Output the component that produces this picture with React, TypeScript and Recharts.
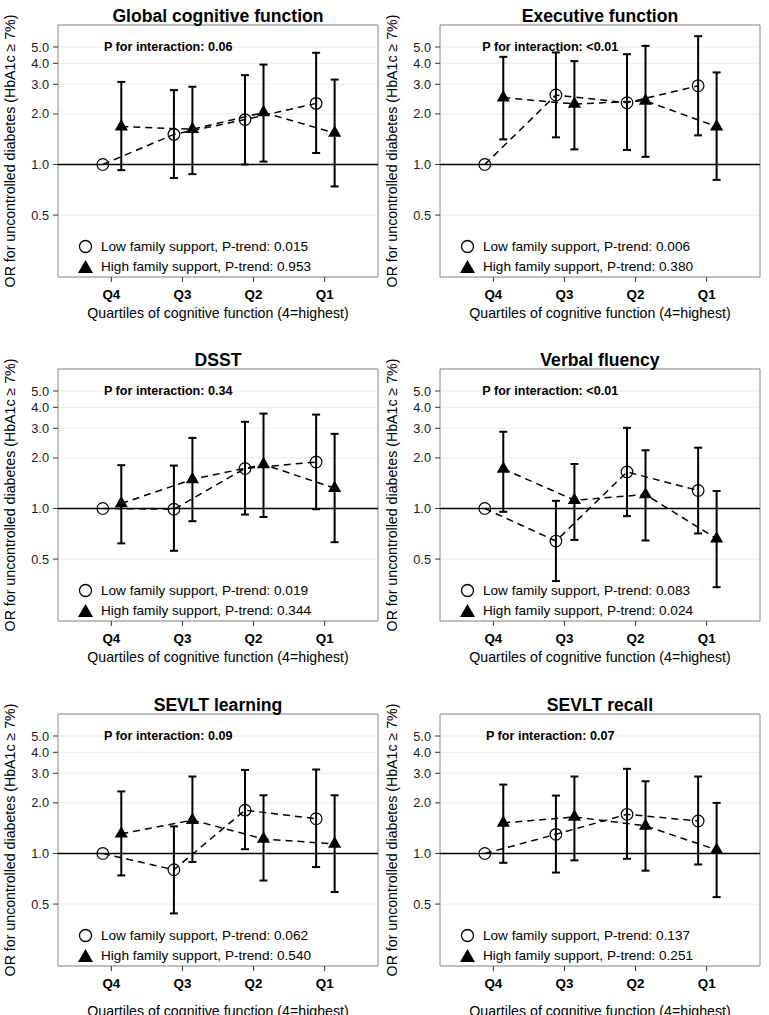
import React from "react";
import {
  ScatterChart,
  Scatter,
  XAxis,
  YAxis,
  CartesianGrid,
  ReferenceLine,
  ReferenceArea,
  ReferenceDot,
  ErrorBar,
  Legend,
} from "recharts";

const FONT = '"Liberation Sans", Arial, Helvetica, sans-serif';

// categories and axis ticks
const quartiles = ["Q4", "Q3", "Q2", "Q1"];
const yTicks = [0.5, 1, 2, 3, 4, 5];
const xTitle = "Quartiles of cognitive function (4=highest)";
const yTitle = "OR for uncontrolled diabetes (HbA1c \u2265 7%)";

const panelTitles = [
  "Global cognitive function",
  "Executive function",
  "DSST",
  "Verbal fluency",
  "SEVLT learning",
  "SEVLT recall",
];
const interactionP = ["0.06", "<0.01", "0.34", "<0.01", "0.09", "0.07"];
const lowTrendP = ["0.015", "0.006", "0.019", "0.083", "0.062", "0.137"];
const highTrendP = ["0.953", "0.380", "0.344", "0.024", "0.540", "0.251"];

// [OR, lower CI, upper CI] for Q4, Q3, Q2, Q1 (Q4 low support = reference)
const globalLow = [[1.0, null, null], [1.51, 0.83, 2.77], [1.85, 1.0, 3.4], [2.31, 1.17, 4.62]];
const globalHigh = [[1.68, 0.925, 3.1], [1.62, 0.876, 2.9], [2.04, 1.04, 3.93], [1.54, 0.74, 3.2]];
const execLow = [[1.0, null, null], [2.59, 1.45, 4.64], [2.33, 1.22, 4.53], [2.94, 1.49, 5.8]];
const execHigh = [[2.5, 1.41, 4.37], [2.29, 1.23, 4.12], [2.39, 1.11, 5.08], [1.68, 0.81, 3.53]];
const dsstLow = [[1.0, null, null], [0.99, 0.56, 1.8], [1.73, 0.92, 3.28], [1.89, 0.99, 3.62]];
const dsstHigh = [[1.07, 0.62, 1.81], [1.49, 0.84, 2.63], [1.83, 0.89, 3.67], [1.32, 0.63, 2.78]];
const verbalLow = [[1.0, null, null], [0.64, 0.37, 1.11], [1.65, 0.9, 3.02], [1.28, 0.71, 2.3]];
const verbalHigh = [[1.72, 0.955, 2.86], [1.12, 0.65, 1.84], [1.21, 0.645, 2.22], [0.66, 0.34, 1.27]];
const learnLow = [[1.0, null, null], [0.8, 0.44, 1.45], [1.81, 1.06, 3.14], [1.61, 0.83, 3.16]];
const learnHigh = [[1.31, 0.74, 2.34], [1.58, 0.89, 2.87], [1.22, 0.69, 2.22], [1.14, 0.59, 2.22]];
const recallLow = [[1.0, null, null], [1.3, 0.77, 2.21], [1.71, 0.93, 3.19], [1.56, 0.86, 2.87]];
const recallHigh = [[1.52, 0.88, 2.57], [1.65, 0.91, 2.87], [1.46, 0.79, 2.69], [1.05, 0.55, 2.0]];

const lowSets = [globalLow, execLow, dsstLow, verbalLow, learnLow, recallLow];
const highSets = [globalHigh, execHigh, dsstHigh, verbalHigh, learnHigh, recallHigh];

const Y_DOMAIN: [number, number] = [0.214, 6.76];
const X_DOMAIN: [number, number] = [0.25, 4.75];

// dodge the two groups a little around each quartile
function toPoints(rows: (number | null)[][], shift: number) {
  return rows.map(([or, lo, hi], i) => ({
    x: i + 1 + shift,
    y: or as number,
    err: lo == null || hi == null ? null : [(or as number) - lo, hi - (or as number)],
  }));
}

const OpenCircle = (props: any) => (
  <circle cx={props.cx} cy={props.cy} r={5.8} fill="none" stroke="#000" strokeWidth={1.2} />
);

const Triangle = (props: any) => {
  const { cx, cy } = props;
  const h = 7.6;
  return (
    <polygon
      points={`${cx},${cy - h} ${cx + h * 0.866},${cy + h / 2} ${cx - h * 0.866},${cy + h / 2}`}
      fill="#000"
    />
  );
};

const YTitle = (props: any) => {
  const vb = props.viewBox || { x: 0, y: 0, height: 0 };
  const cx = vb.x + 14;
  const cy = vb.y + vb.height / 2;
  return (
    <text x={cx} y={cy} transform={`rotate(-90 ${cx} ${cy})`} textAnchor="middle" fontSize={14.2} fill="#000">
      {yTitle}
    </text>
  );
};

const LegendBox = ({ payload }: any) => {
  const items = [...(payload || [])].sort(
    (a: any, b: any) => Number(String(b.value).startsWith("Low")) - Number(String(a.value).startsWith("Low"))
  );
  return (
    <div style={{ fontSize: 13.6, color: "#000", fontFamily: FONT }}>
      {items.map((entry: any, i: number) => (
        <div key={i} style={{ display: "flex", alignItems: "center", height: 20 }}>
          <svg width={15} height={15}>
            {String(entry.value).startsWith("Low") ? (
              <circle cx={7.5} cy={7.5} r={6} fill="none" stroke="#000" strokeWidth={1.3} />
            ) : (
              <polygon points="7.5,1 15,14 0,14" fill="#000" />
            )}
          </svg>
          <span style={{ marginLeft: 8.5, whiteSpace: "nowrap" }}>{entry.value}</span>
        </div>
      ))}
    </div>
  );
};

function Panel({ idx, left, top, titleOffset }: { idx: number; left: number; top: number; titleOffset: number }) {
  const lowPts = toPoints(lowSets[idx], -0.12);
  const highPts = toPoints(highSets[idx], 0.14);
  const dashed = { stroke: "#000", strokeWidth: 1.5, strokeDasharray: "7 5" };

  return (
    <div style={{ position: "absolute", left, top, width: 384, height: 345 }}>
      <ScatterChart width={384} height={345} margin={{ top: 25, right: 7, bottom: 0, left: 0 }}>
        <CartesianGrid vertical={false} stroke="#ececec" />
        <XAxis
          type="number"
          dataKey="x"
          domain={X_DOMAIN}
          allowDataOverflow
          ticks={[1, 2, 3, 4]}
          interval={0}
          tickFormatter={(v) => quartiles[v - 1]}
          height={68}
          axisLine={false}
          tickLine={{ stroke: "#333" }}
          tickSize={5}
          tickMargin={7}
          tick={{ fontSize: 13.4, fontWeight: "bold", fill: "#000" }}
          label={{ value: xTitle, position: "insideBottom", offset: titleOffset, fontSize: 14.2, fill: "#000" }}
        />
        <YAxis
          type="number"
          dataKey="y"
          scale="log"
          domain={Y_DOMAIN}
          allowDataOverflow
          ticks={yTicks}
          interval={0}
          tickFormatter={(v) => Number(v).toFixed(1)}
          width={57}
          axisLine={false}
          tickLine={{ stroke: "#333" }}
          tickSize={5}
          tickMargin={4}
          tick={{ fontSize: 12.8, fill: "#1a1a1a" }}
          label={{ content: (p: any) => <YTitle {...p} /> }}
        />
        <ReferenceArea
          x1={X_DOMAIN[0]}
          x2={X_DOMAIN[1]}
          y1={Y_DOMAIN[0]}
          y2={Y_DOMAIN[1]}
          fill="none"
          stroke="#8a8a8a"
          strokeWidth={1}
          ifOverflow="visible"
        />
        <ReferenceLine y={1} stroke="#000" strokeWidth={1.5} />
        <ReferenceDot
          x={1.8}
          y={5}
          r={0}
          fill="none"
          stroke="none"
          ifOverflow="visible"
          label={{
            value: `P for interaction: ${interactionP[idx]}`,
            position: "center",
            fontSize: 12.6,
            fontWeight: "bold",
            fill: "#000",
          }}
        />
        <Legend
          layout="vertical"
          align="center"
          verticalAlign="middle"
          content={<LegendBox />}
          wrapperStyle={{ left: 76.5, top: 236.7, width: 290 }}
        />
        <Scatter
          name={`Low family support, P-trend: ${lowTrendP[idx]}`}
          data={lowPts}
          fill="#000"
          shape={(p: any) => <OpenCircle {...p} />}
          line={dashed}
          lineType="joint"
          isAnimationActive={false}
        >
          <ErrorBar dataKey="err" direction="y" width={4} strokeWidth={2} stroke="#000" />
        </Scatter>
        <Scatter
          name={`High family support, P-trend: ${highTrendP[idx]}`}
          data={highPts}
          fill="#000"
          shape={(p: any) => <Triangle {...p} />}
          line={dashed}
          lineType="joint"
          isAnimationActive={false}
        >
          <ErrorBar dataKey="err" direction="y" width={4} strokeWidth={2} stroke="#000" />
        </Scatter>
      </ScatterChart>
      <div
        style={{
          position: "absolute",
          left: 57,
          top: 8,
          width: 320,
          textAlign: "center",
          fontWeight: "bold",
          fontSize: 17.6,
          lineHeight: "17.6px",
          whiteSpace: "nowrap",
          color: "#000",
        }}
      >
        {panelTitles[idx]}
      </div>
    </div>
  );
}

const colLeft = [1, 383];
const rowTop = [0, 344, 689];
const rowTitleOffset = [27, 27, 18];

export default function App() {
  return (
    <div
      style={{
        position: "absolute",
        left: 0,
        top: 0,
        width: 769,
        height: 1015,
        overflow: "hidden",
        background: "#fff",
        fontFamily: FONT,
      }}
    >
      {panelTitles.map((_, i) => (
        <Panel
          key={i}
          idx={i}
          left={colLeft[i % 2]}
          top={rowTop[Math.floor(i / 2)]}
          titleOffset={rowTitleOffset[Math.floor(i / 2)]}
        />
      ))}
    </div>
  );
}
